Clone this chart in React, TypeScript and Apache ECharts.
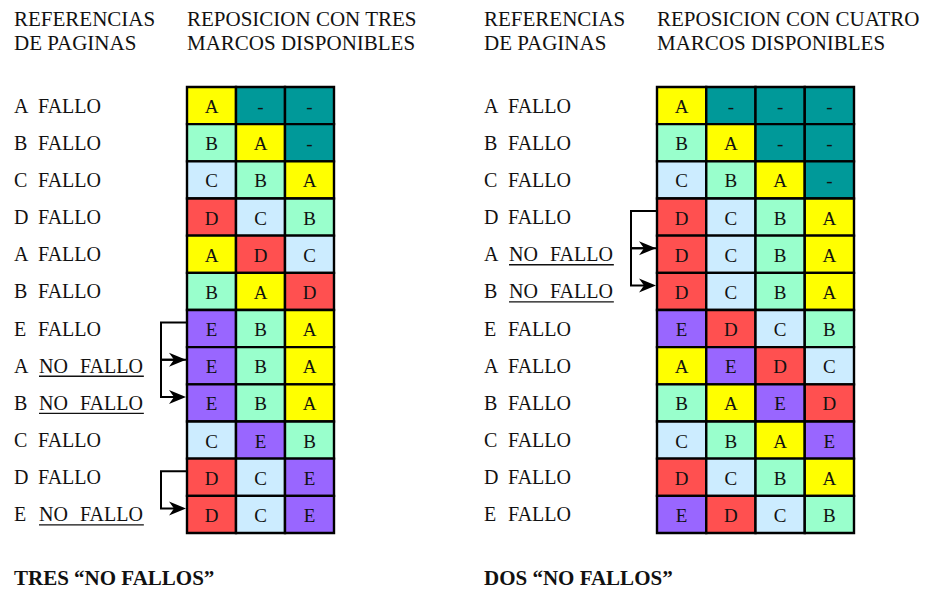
import React, { useEffect, useRef } from "react";
import * as echarts from "echarts";

// ---- data ----
const leftRefs = ["A", "B", "C", "D", "A", "B", "E", "A", "B", "C", "D", "E"];
const leftStatus = ["FALLO", "FALLO", "FALLO", "FALLO", "FALLO", "FALLO", "FALLO", "NO FALLO", "NO FALLO", "FALLO", "FALLO", "NO FALLO"];
const leftFrames = [
  ["A", "-", "-"],
  ["B", "A", "-"],
  ["C", "B", "A"],
  ["D", "C", "B"],
  ["A", "D", "C"],
  ["B", "A", "D"],
  ["E", "B", "A"],
  ["E", "B", "A"],
  ["E", "B", "A"],
  ["C", "E", "B"],
  ["D", "C", "E"],
  ["D", "C", "E"],
];
const rightRefs = ["A", "B", "C", "D", "A", "B", "E", "A", "B", "C", "D", "E"];
const rightStatus = ["FALLO", "FALLO", "FALLO", "FALLO", "NO FALLO", "NO FALLO", "FALLO", "FALLO", "FALLO", "FALLO", "FALLO", "FALLO"];
const rightFrames = [
  ["A", "-", "-", "-"],
  ["B", "A", "-", "-"],
  ["C", "B", "A", "-"],
  ["D", "C", "B", "A"],
  ["D", "C", "B", "A"],
  ["D", "C", "B", "A"],
  ["E", "D", "C", "B"],
  ["A", "E", "D", "C"],
  ["B", "A", "E", "D"],
  ["C", "B", "A", "E"],
  ["D", "C", "B", "A"],
  ["E", "D", "C", "B"],
];
const leftTitles = ["REFERENCIAS", "DE PAGINAS", "REPOSICION CON TRES", "MARCOS DISPONIBLES"];
const rightTitles = ["REFERENCIAS", "DE PAGINAS", "REPOSICION CON CUATRO", "MARCOS DISPONIBLES"];
const leftFooter = "TRES \u201CNO FALLOS\u201D";
const rightFooter = "DOS \u201CNO FALLOS\u201D";

// ---- styles ----
const COLORS: Record<string, string> = {
  A: "#FFFF00",
  B: "#99FFCC",
  C: "#CCECFF",
  D: "#FF5050",
  E: "#9966FF",
  "-": "#009999",
};
const FAMILY = "Liberation Serif";

function measure(text: string, size: number): number {
  const c = document.createElement("canvas");
  const ctx = c.getContext("2d")!;
  ctx.font = `${size}px "${FAMILY}"`;
  return ctx.measureText(text).width;
}

function buildPanel(
  idx: number,
  refs: string[],
  status: string[],
  frames: string[][],
  labelX: number
) {
  const nCols = frames[0].length;
  const cells: { col: number; row: number; letter: string }[] = [];
  frames.forEach((r, ri) => r.forEach((l, ci) => cells.push({ col: ci, row: ri, letter: l })));
  const arrows: number[] = [];
  status.forEach((s, i) => {
    if (s === "NO FALLO" && i > 0) arrows.push(i);
  });
  const LS = 20;

  const xAxis = {
    type: "category",
    gridIndex: idx,
    data: Array.from({ length: nCols }, (_, i) => String(i)),
    show: false,
  };
  const yAxis = {
    type: "category",
    gridIndex: idx,
    inverse: true,
    data: refs.map((_, i) => String(i)),
    show: false,
  };

  const cellSeries = {
    type: "custom",
    xAxisIndex: idx,
    yAxisIndex: idx,
    clip: false,
    data: cells.map((c) => [c.col, c.row]),
    renderItem: (params: any, api: any) => {
      const c = cells[params.dataIndex];
      const p = api.coord([c.col, c.row]);
      const s = api.size([1, 1]);
      return {
        type: "group",
        children: [
          {
            type: "rect",
            shape: { x: p[0] - s[0] / 2, y: p[1] - s[1] / 2, width: s[0], height: s[1] },
            style: { fill: COLORS[c.letter], stroke: "#000", lineWidth: 2.4 },
          },
          {
            type: "text",
            style: {
              text: c.letter,
              x: p[0],
              y: p[1] + 1,
              align: "center",
              verticalAlign: "middle",
              fontFamily: FAMILY,
              fontSize: 19,
              fill: "#111",
            },
          },
        ],
      };
    },
  };

  const txt = (text: string, x: number, y: number) => ({
    type: "text",
    style: { text, x, y, align: "left", verticalAlign: "middle", fontFamily: FAMILY, fontSize: LS, fill: "#111" },
  });

  const labelSeries = {
    type: "custom",
    xAxisIndex: idx,
    yAxisIndex: idx,
    clip: false,
    data: refs.map((_, i) => [0, i]),
    renderItem: (params: any, api: any) => {
      const i = params.dataIndex;
      const y = api.coord([0, i])[1];
      const st = status[i];
      const children: any[] = [txt(refs[i], labelX, y)];
      if (st === "NO FALLO") {
        const words = st.split(" ");
        const x0 = labelX + 25;
        const w0 = measure(words[0], LS);
        const x1 = x0 + w0 + 12;
        const w1 = measure(words[1], LS);
        children.push(txt(words[0], x0, y));
        children.push(txt(words[1], x1, y));
        children.push({
          type: "line",
          shape: { x1: x0, y1: y + 10.5, x2: x1 + w1 + 1, y2: y + 10.5 },
          style: { stroke: "#111", lineWidth: 1.3 },
        });
      } else {
        children.push(txt(st, labelX + 24, y));
      }
      return { type: "group", children };
    },
  };

  const arrowSeries = {
    type: "custom",
    xAxisIndex: idx,
    yAxisIndex: idx,
    clip: false,
    data: arrows.map((r) => [0, r]),
    renderItem: (params: any, api: any) => {
      const r = arrows[params.dataIndex];
      const s = api.size([1, 1]);
      const gx = api.coord([0, r])[0] - s[0] / 2 - 1;
      const y1 = api.coord([0, r - 1])[1] - 6;
      const y2 = api.coord([0, r])[1] - 6;
      const bx = gx - 25;
      return {
        type: "group",
        children: [
          {
            type: "polyline",
            shape: { points: [[gx, y1], [bx, y1], [bx, y2], [gx - 10, y2]] },
            style: { stroke: "#000", lineWidth: 2, fill: null },
          },
          {
            type: "polygon",
            shape: { points: [[gx, y2], [gx - 17, y2 - 7], [gx - 12, y2], [gx - 17, y2 + 7]] },
            style: { fill: "#000" },
          },
        ],
      };
    },
  };

  return { xAxis, yAxis, series: [cellSeries, labelSeries, arrowSeries] };
}

export default function App() {
  const ref = useRef<HTMLDivElement>(null);
  useEffect(() => {
    document.body.style.margin = "0";
    const chart = echarts.init(ref.current!, undefined, { renderer: "svg" });
    const L = buildPanel(0, leftRefs, leftStatus, leftFrames, 14);
    const R = buildPanel(1, rightRefs, rightStatus, rightFrames, 484);

    const titleText = (t: string, x: number, y: number) => ({
      type: "text",
      style: { text: t, x, y, verticalAlign: "middle", fontFamily: FAMILY, fontSize: 21, fill: "#111" },
    });
    const footText = (t: string, x: number) => ({
      type: "text",
      style: { text: t, x, y: 578, verticalAlign: "middle", fontFamily: FAMILY, fontSize: 21, fontWeight: "bold", fill: "#111" },
    });

    chart.setOption({
      animation: false,
      backgroundColor: "#fff",
      grid: [
        { left: 187, top: 87, width: 147, height: 446 },
        { left: 657, top: 87, width: 197, height: 446 },
      ],
      xAxis: [L.xAxis, R.xAxis],
      yAxis: [L.yAxis, R.yAxis],
      series: [...L.series, ...R.series],
      graphic: [
        titleText(leftTitles[0], 14, 19),
        titleText(leftTitles[1], 14, 43),
        titleText(leftTitles[2], 187, 19),
        titleText(leftTitles[3], 187, 43),
        titleText(rightTitles[0], 484, 19),
        titleText(rightTitles[1], 484, 43),
        titleText(rightTitles[2], 657, 19),
        titleText(rightTitles[3], 657, 43),
        footText(leftFooter, 14),
        footText(rightFooter, 484),
      ],
    });
    return () => chart.dispose();
  }, []);
  return <div ref={ref} style={{ position: "fixed", left: 0, top: 0, width: 933, height: 590 }} />;
}
